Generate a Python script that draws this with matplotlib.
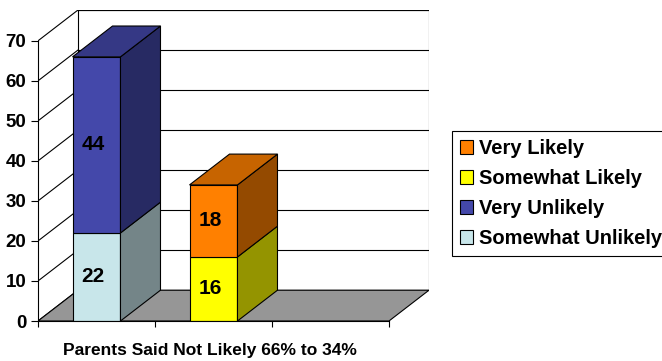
import matplotlib.pyplot as plt
import numpy as np
from matplotlib.patches import Polygon, Patch
from matplotlib.colors import to_rgb

plt.rcParams['font.family'] = ['Liberation Sans', 'DejaVu Sans']
plt.rcParams['font.weight'] = 'bold'

# data
slot_labels = ['', '', '']
bar_slots = [0, 1]
lower_names = ['Somewhat Unlikely', 'Somewhat Likely']
upper_names = ['Very Unlikely', 'Very Likely']
lower_vals = [22, 16]
upper_vals = [44, 18]
y_ticks = [0, 10, 20, 30, 40, 50, 60, 70]
x_label = 'Parents Said Not Likely 66% to 34%'

colors = {
    'Very Likely': '#ff8000',
    'Somewhat Likely': '#ffff00',
    'Very Unlikely': '#4448aa',
    'Somewhat Unlikely': '#c8e6ea',
}
legend_order = ['Very Likely', 'Somewhat Likely', 'Very Unlikely', 'Somewhat Unlikely']

# fake 3d depth (in data units)
dx, dy = 0.342, 7.7
bar_w = 0.41
ymax = y_ticks[-1]
nslots = len(slot_labels)


def shade(c, f):
    r, g, b = to_rgb(c)
    return (r * f, g * f, b * f)


fig = plt.figure(figsize=(6.62, 3.61), dpi=100)
ax = fig.add_axes([38 / 662, 40 / 361, 391 / 662, 311 / 361])
ax.set_xlim(0, nslots + dx)
ax.set_ylim(0, ymax + dy)

# back wall + gridlines
ax.add_patch(Polygon([(dx, dy), (nslots + dx, dy), (nslots + dx, ymax + dy), (dx, ymax + dy)],
                     closed=True, facecolor='white', edgecolor='black', lw=0.8, zorder=1))
for v in y_ticks[1:]:
    ax.plot([dx, nslots + dx], [v + dy, v + dy], color='black', lw=0.8, zorder=1)
# side wall lines
for v in y_ticks:
    ax.plot([0, dx], [v, v + dy], color='black', lw=0.8, zorder=1)
# floor
ax.add_patch(Polygon([(0, 0), (nslots, 0), (nslots + dx, dy), (dx, dy)],
                     closed=True, facecolor='#969696', edgecolor='black', lw=0.8, zorder=2))

# stacked bars
for i, s in enumerate(bar_slots):
    xc = s + 0.5
    x0, x1 = xc - bar_w / 2, xc + bar_w / 2
    segs = [(lower_names[i], 0, lower_vals[i]),
            (upper_names[i], lower_vals[i], upper_vals[i])]
    for name, bottom, h in segs:
        c = colors[name]
        ax.bar(xc, h, bottom=bottom, width=bar_w, color=c, edgecolor='black', lw=0.8, zorder=3)
        ax.add_patch(Polygon([(x1, bottom), (x1 + dx, bottom + dy), (x1 + dx, bottom + h + dy), (x1, bottom + h)],
                             closed=True, facecolor=shade(c, 0.58), edgecolor='black', lw=0.8, zorder=3))
        ax.text(xc - 0.03, bottom + h / 2, str(h), ha='center', va='center', fontsize=15,
                fontweight='bold', zorder=5)
    top = lower_vals[i] + upper_vals[i]
    c = colors[upper_names[i]]
    ax.add_patch(Polygon([(x0, top), (x1, top), (x1 + dx, top + dy), (x0 + dx, top + dy)],
                         closed=True, facecolor=shade(c, 0.78), edgecolor='black', lw=0.8, zorder=3))

# axes
for sp in ['top', 'right']:
    ax.spines[sp].set_visible(False)
ax.spines['left'].set_bounds(0, ymax)
ax.spines['bottom'].set_bounds(0, nslots)
ax.spines['left'].set_zorder(4)
ax.spines['bottom'].set_zorder(4)
ax.set_yticks(y_ticks)
ax.set_yticklabels([str(v) for v in y_ticks], fontsize=13.5, fontweight='bold')
ax.set_xticks(np.arange(nslots + 1))
ax.set_xticklabels([''] * (nslots + 1))
ax.tick_params(axis='y', length=5, pad=3.5)
ax.tick_params(axis='x', length=4)

fig.text(210 / 662, 1 - 350 / 361, x_label, ha='center', va='center', fontsize=12.5, fontweight='bold')

handles = [Patch(facecolor=colors[n], edgecolor='black', lw=0.8) for n in legend_order]
leg = fig.legend(handles, legend_order, loc='upper left', bbox_to_anchor=(452 / 662, 1 - 131 / 361),
                 bbox_transform=fig.transFigure, borderaxespad=0, fancybox=False, edgecolor='black',
                 prop={'size': 14.5, 'weight': 'bold'}, handlelength=0.65, handleheight=0.65,
                 handletextpad=0.3, labelspacing=0.55, borderpad=0.4, framealpha=1)
leg.get_frame().set_linewidth(0.8)

fig.savefig('out.png', dpi=100)
